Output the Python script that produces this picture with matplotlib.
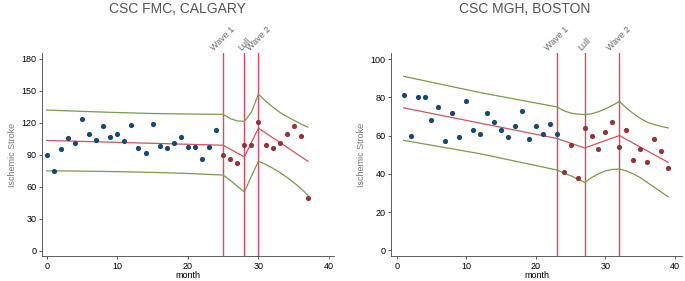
import matplotlib
matplotlib.use("Agg")
import matplotlib.pyplot as plt

plt.rcParams["font.family"] = ["Liberation Sans", "DejaVu Sans"]

# --- Calgary ---
cal_month = list(range(0, 38))
cal_stroke = [90, 75, 95, 106, 101, 124, 110, 104, 117, 107, 110, 103, 118, 96, 92, 119,
              98, 96, 101, 107, 97, 97, 86, 97, 113,
              90, 86, 82, 99, 99, 121, 99, 96, 101, 110, 117, 108, 49]
cal_pre_end = 25  # first post-onset month
cal_fit_x = [0, 25, 28, 30, 37]
cal_fit_y = [103.5, 99, 88, 115, 84]
cal_band_x = [0, 5, 10, 15, 20, 25, 26, 27, 28, 29, 30, 31, 32, 33, 34, 35, 36, 37]
cal_upper = [132, 130.8, 129.7, 128.8, 128.3, 128, 124, 121.8, 121.5, 130, 147,
             140.5, 135, 130, 126, 122.5, 119, 116]
cal_lower = [75, 74.7, 74.2, 73.5, 72.5, 71, 66, 60.5, 55, 70, 84,
             81, 77.5, 73.5, 69, 64, 58.5, 52]
cal_events = [25, 28, 30]

# --- Boston ---
bos_month = list(range(1, 40))
bos_stroke = [81, 60, 80, 80, 68, 75, 57, 72, 59, 78, 63, 61, 72, 67, 63, 59, 65, 73, 58,
              65, 61, 66, 61,
              41, 55, 38, 64, 60, 53, 62, 67, 54, 63, 47, 53, 46, 58, 52, 43]
bos_pre_end = 24
bos_fit_x = [1, 23, 27, 32, 39]
bos_fit_y = [74.5, 58.5, 53.5, 60, 46]
bos_band_x = [1, 12, 23, 24, 25, 26, 27, 28, 29, 30, 31, 32, 33, 34, 35, 36, 37, 38, 39]
bos_upper = [91, 82.5, 75, 73, 71.8, 71.2, 71, 71.4, 72.5, 74, 75.8, 77.8,
             74.5, 71.5, 69, 67, 65.8, 64.8, 64]
bos_lower = [57.5, 50.5, 42, 40.5, 39, 37.3, 35.5, 38, 40, 41.5, 42.3, 42.5,
             41.5, 40, 38, 35.5, 33, 30.5, 28]
bos_events = [23, 27, 32]

event_labels = ["Wave 1", "Lull", "Wave 2"]

BLUE = "#1a476f"
MAROON = "#90353b"
FIT = "#cc5560"
GREEN = "#7a9a4e"
VLINE = "#e0475e"
GRAY = "#555555"


def panel(ax, month, stroke, pre_end, fit_x, fit_y, band_x, upper, lower,
          events, xlim, ylim, yticks):
    pre = [(m, v) for m, v in zip(month, stroke) if m < pre_end]
    post = [(m, v) for m, v in zip(month, stroke) if m >= pre_end]
    ax.plot(band_x, upper, color=GREEN, lw=0.9, zorder=2)
    ax.plot(band_x, lower, color=GREEN, lw=0.9, zorder=2)
    ax.plot(fit_x, fit_y, color=FIT, lw=0.9, zorder=2)
    ax.scatter([p[0] for p in pre], [p[1] for p in pre], s=14, color=BLUE, zorder=3, linewidths=0)
    ax.scatter([p[0] for p in post], [p[1] for p in post], s=14, color=MAROON, zorder=3, linewidths=0)
    for x, lab in zip(events, event_labels):
        ax.axvline(x, color=VLINE, lw=1.0, zorder=1)
        ax.text(x, ylim[1] + (ylim[1] - ylim[0]) * 0.005, lab, rotation=45, ha="center", va="bottom",
                fontsize=6.5, color="#666666")
    ax.set_xlim(*xlim)
    ax.set_ylim(*ylim)
    ax.set_yticks(yticks)
    ax.set_xticks([0, 10, 20, 30, 40])
    ax.tick_params(labelsize=6.5, length=2.5, width=0.6, color="#444444", pad=1.5)
    for side in ("top", "right"):
        ax.spines[side].set_visible(False)
    for side in ("left", "bottom"):
        ax.spines[side].set_linewidth(0.6)
        ax.spines[side].set_color("#444444")
    ax.set_xlabel("month", fontsize=6.5, labelpad=0)
    ax.set_ylabel("Ischemic Stroke", fontsize=6.5, color="#777777", labelpad=3)


fig = plt.figure(figsize=(6.85, 2.81), dpi=100)
ax1 = fig.add_axes([42 / 685, 25 / 281, 292 / 685, 203 / 281])
ax2 = fig.add_axes([391 / 685, 25 / 281, 291 / 685, 203 / 281])

panel(ax1, cal_month, cal_stroke, cal_pre_end, cal_fit_x, cal_fit_y,
      cal_band_x, cal_upper, cal_lower, cal_events, (-0.67, 40.7), (-5, 185.6),
      [0, 30, 60, 90, 120, 150, 180])
panel(ax2, bos_month, bos_stroke, bos_pre_end, bos_fit_x, bos_fit_y,
      bos_band_x, bos_upper, bos_lower, bos_events, (-0.82, 41.0), (-3, 103.2),
      [0, 20, 40, 60, 80, 100])

fig.text(177 / 685, 1 - 9 / 281, "CSC FMC, CALGARY", ha="center", va="center", fontsize=10, color=GRAY)
fig.text(525 / 685, 1 - 9 / 281, "CSC MGH, BOSTON", ha="center", va="center", fontsize=10, color=GRAY)

fig.savefig("out.png", dpi=100)
